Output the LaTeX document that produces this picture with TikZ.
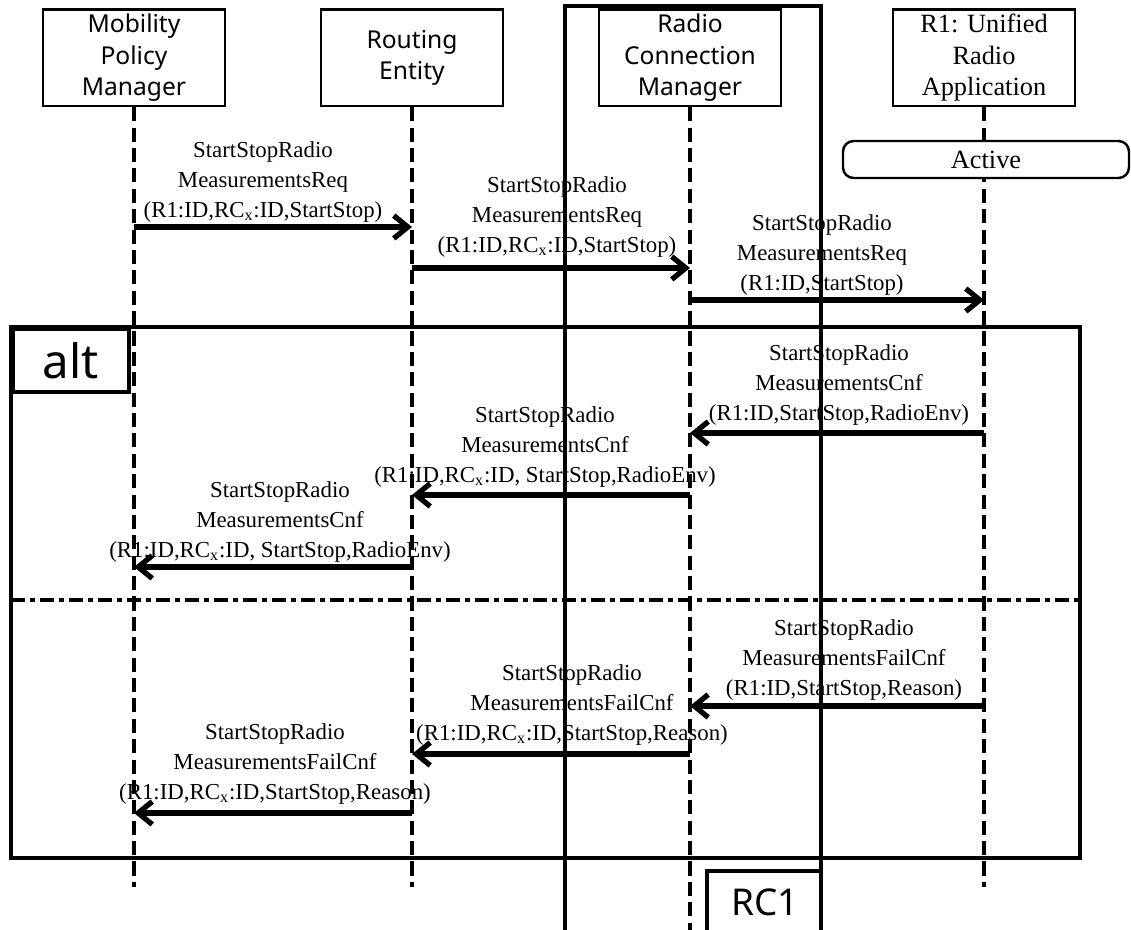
\documentclass[tikz,border=0pt]{standalone}
\usepackage{fontspec}
\setmainfont{Liberation Serif}
\newfontfamily\hdrsans{Noto Sans}
\usetikzlibrary{arrows.meta}

\begin{document}
\begin{tikzpicture}[>={Straight Barb[length=8pt,width=13pt]},
  hdr/.style={draw,line width=1.4pt,minimum width=3.64cm,minimum height=1.93cm,align=center,inner sep=0pt,font=\hdrsans\fontsize{14}{18}\selectfont},
  life/.style={line width=2.3pt,dash pattern=on 8pt off 3.6pt},
  msg/.style={->,line width=3pt},
  lbl/.style={align=center,inner sep=0pt,font=\fontsize{13}{16.8}\selectfont},
  frame/.style={line width=2pt}]
\useasboundingbox (0,0) rectangle (22.62,-18.6);
% lifeline heads
\node[hdr] (mpm) at (2.68,-1.155) {Mobility\\Policy\\Manager};
\node[hdr] (re) at (8.24,-1.155) {Routing\\Entity};
\node[hdr] (rcm) at (13.8,-1.155) {Radio\\Connection\\Manager};
\node[hdr,font=\fontsize{15}{18}\selectfont] (ura) at (19.68,-1.155) {R1: Unified\\Radio\\Application};
% RC1 frame
\draw[frame] (11.3,-18.6) |- (16.42,-0.12) -- (16.42,-18.6);
\draw[frame] (14.14,-18.6) |- (16.42,-17.42);
\node[font=\hdrsans\fontsize{21}{21}\selectfont] (rclabel) at (15.3,-18.04) {RC1};
% lifelines
\draw[life] (mpm.south) -- (mpm.south |- 0,-17.74);
\draw[life] (re.south) -- (re.south |- 0,-17.74);
\draw[life] (rcm.south) -- (rcm.south |- 0,-18.6);
\draw[life] (ura.south) -- (ura.south |- 0,-17.74);
\node[draw,line width=1.4pt,rounded corners=6pt,fill=white,minimum width=5.72cm,minimum height=0.74cm,font=\fontsize{15}{18}\selectfont] (act) at (19.72,-3.19) {Active};
% alt fragment
\draw[frame] (0.22,-6.54) rectangle (21.6,-17.16);
\node[draw,frame,anchor=north west,minimum width=2.32cm,minimum height=1.26cm,inner sep=0pt,font=\hdrsans\fontsize{27}{27}\selectfont] (alttag) at (0.22,-6.54) {alt};
\draw[line width=2.5pt,dash pattern=on 8pt off 3pt on 2.5pt off 3pt] (0.22,-12) -- (21.6,-12);
% requests
\draw[msg] (mpm |- 0,-4.54) -- (re |- 0,-4.54);
\node[lbl] (l1) at (5.26,-3.64) {StartStopRadio\\MeasurementsReq\\(R1:ID,RC\textsubscript{x}:ID,StartStop)};
\draw[msg] (re |- 0,-5.36) -- (rcm |- 0,-5.36);
\node[lbl] (l2) at (11.14,-4.34) {StartStopRadio\\MeasurementsReq\\(R1:ID,RC\textsubscript{x}:ID,StartStop)};
\draw[msg] (rcm |- 0,-6.0) -- (ura |- 0,-6.0);
\node[lbl] (l3) at (16.44,-5.1) {StartStopRadio\\MeasurementsReq\\(R1:ID,StartStop)};
% confirm
\draw[msg] (ura |- 0,-8.66) -- (rcm |- 0,-8.66);
\node[lbl] (l4) at (16.78,-7.7) {StartStopRadio\\MeasurementsCnf\\(R1:ID,StartStop,RadioEnv)};
\draw[msg] (rcm |- 0,-9.9) -- (re |- 0,-9.9);
\node[lbl] (l5) at (10.9,-8.94) {StartStopRadio\\MeasurementsCnf\\(R1:ID,RC\textsubscript{x}:ID, StartStop,RadioEnv)};
\draw[msg] (re |- 0,-11.34) -- (mpm |- 0,-11.34);
\node[lbl] (l6) at (5.6,-10.44) {StartStopRadio\\MeasurementsCnf\\(R1:ID,RC\textsubscript{x}:ID, StartStop,RadioEnv)};
% failure
\draw[msg] (ura |- 0,-14.12) -- (rcm |- 0,-14.12);
\node[lbl] (l7) at (16.88,-13.2) {StartStopRadio\\MeasurementsFailCnf\\(R1:ID,StartStop,Reason)};
\draw[msg] (rcm |- 0,-15.08) -- (re |- 0,-15.08);
\node[lbl] (l8) at (11.44,-14.1) {StartStopRadio\\MeasurementsFailCnf\\(R1:ID,RC\textsubscript{x}:ID,StartStop,Reason)};
\draw[msg] (re |- 0,-16.26) -- (mpm |- 0,-16.26);
\node[lbl] (l9) at (5.5,-15.28) {StartStopRadio\\MeasurementsFailCnf\\(R1:ID,RC\textsubscript{x}:ID,StartStop,Reason)};
\end{tikzpicture}
\end{document}
